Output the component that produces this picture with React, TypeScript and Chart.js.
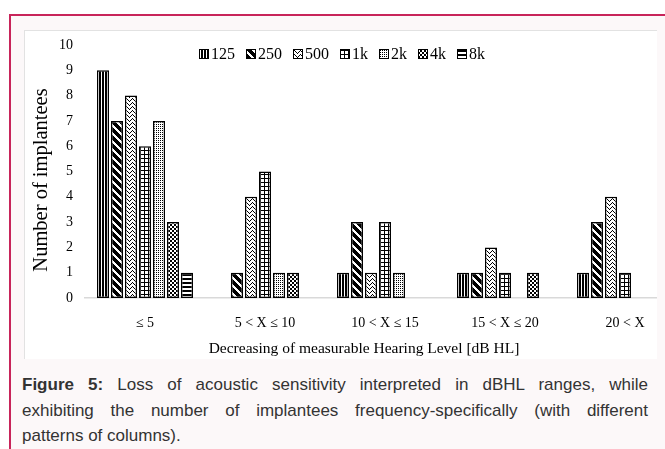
import React, { useEffect, useRef } from "react";
import { Chart, registerables } from "chart.js";

Chart.register(...registerables);

const categories = ["≤ 5", "5 < X ≤ 10", "10 < X ≤ 15", "15 < X ≤ 20", "20 < X"];
const frequencies = ["125", "250", "500", "1k", "2k", "4k", "8k"];
const hz125 = [9, 0, 1, 1, 1];
const hz250 = [7, 1, 3, 1, 3];
const hz500 = [8, 4, 1, 2, 4];
const hz1k = [6, 5, 3, 1, 1];
const hz2k = [7, 1, 1, 0, 0];
const hz4k = [3, 1, 0, 1, 0];
const hz8k = [1, 0, 0, 0, 0];
const seriesValues = [hz125, hz250, hz500, hz1k, hz2k, hz4k, hz8k];
const patternKinds = ["vertical", "diagonal", "zigzag", "grid", "dots", "checker", "horizontal"];
const yMin = 0;
const yMax = 10;
const yStep = 1;
const xTitle = "Decreasing of measurable Hearing Level [dB HL]";
const yTitle = "Number of implantees";

const SERIF = "'Liberation Serif', 'Times New Roman', serif";

function makePattern(kind: string): CanvasPattern | string {
  const c = document.createElement("canvas");
  let w = 4, h = 4;
  if (kind === "vertical") { w = 3; h = 1; }
  if (kind === "diagonal") { w = 8; h = 8; }
  if (kind === "zigzag") { w = 6; h = 4; }
  if (kind === "grid") { w = 4; h = 4; }
  if (kind === "dots") { w = 2; h = 2; }
  if (kind === "checker") { w = 4; h = 4; }
  if (kind === "horizontal") { w = 1; h = 4; }
  c.width = w; c.height = h;
  const ctx = c.getContext("2d");
  if (!ctx) return "#888";
  ctx.fillStyle = "#fff";
  ctx.fillRect(0, 0, w, h);
  ctx.fillStyle = "#000";
  for (let y = 0; y < h; y++) {
    for (let x = 0; x < w; x++) {
      let on = false;
      switch (kind) {
        case "vertical": on = x < 2; break;
        case "diagonal": on = ((x - y + 16) % 8) >= 3; break;
        case "zigzag": { const zy = x < 3 ? x : 6 - x; on = y === zy % 4; break; }
        case "grid": on = x === 0 || y === 0; break;
        case "dots": on = x === 0 && y === 0; break;
        case "checker": on = (((x >> 1) + (y >> 1)) % 2) === 0; break;
        case "horizontal": on = y < 2; break;
      }
      if (on) ctx.fillRect(x, y, 1, 1);
    }
  }
  const p = ctx.createPattern(c, "repeat");
  return p || "#888";
}

// Legend drawn inside the plot area plus the two axis titles, placed relative to the chart area
const inlineLegend = {
  id: "inlineLegend",
  afterDraw(chart: any) {
    const ctx = chart.ctx as CanvasRenderingContext2D;
    const area = chart.chartArea;
    ctx.save();
    ctx.font = `16px ${SERIF}`;
    ctx.textBaseline = "middle";
    let x = area.left + 114;
    const yc = area.top + 9;
    chart.data.datasets.forEach((ds: any) => {
      ctx.fillStyle = ds.backgroundColor;
      ctx.fillRect(x, yc - 5, 10, 10);
      ctx.strokeStyle = "#000";
      ctx.lineWidth = 1;
      ctx.strokeRect(x + 0.5, yc - 4.5, 9, 9);
      ctx.fillStyle = "#000";
      ctx.fillText(ds.label, x + 12, yc + 1);
      x += 12 + ctx.measureText(ds.label).width + 11;
    });
    // x axis title
    const xs = chart.scales.x;
    ctx.font = `15.5px ${SERIF}`;
    ctx.textAlign = "center";
    ctx.fillText(xTitle, area.left + 279, xs.bottom - 10);
    // y axis title
    ctx.save();
    ctx.translate(area.left - 43, area.top + 135);
    ctx.rotate(-Math.PI / 2);
    ctx.font = `20.5px ${SERIF}`;
    ctx.fillText(yTitle, 0, 0);
    ctx.restore();
    ctx.restore();
  },
};

function BarChart() {
  const ref = useRef<HTMLCanvasElement | null>(null);
  useEffect(() => {
    if (!ref.current) return;
    const datasets = frequencies.map((f, i) => ({
      label: f,
      data: seriesValues[i],
      backgroundColor: makePattern(patternKinds[i]) as any,
      borderColor: "#000",
      borderWidth: 1.5,
      borderSkipped: false as any,
      categoryPercentage: 0.817,
      barPercentage: 0.86,
    }));
    const chart = new Chart(ref.current, {
      type: "bar",
      data: { labels: categories, datasets },
      options: {
        animation: false,
        responsive: false,
        devicePixelRatio: 1,
        layout: { padding: { left: 6, right: 5, top: 15, bottom: 0 } },
        plugins: { legend: { display: false }, tooltip: { enabled: false } },
        scales: {
          x: {
            grid: { display: false, drawTicks: false },
            border: { display: true, color: "#d9d9d9", width: 1.5 },
            ticks: { color: "#000", font: { family: SERIF, size: 14 }, padding: 17 },
            afterFit: (scale: any) => {
              scale.height = 61;
              scale.paddingLeft = 0;
              scale.paddingRight = 0;
            },
          },
          y: {
            min: yMin,
            max: yMax,
            grid: { display: false, drawTicks: false },
            border: { display: false },
            ticks: { stepSize: yStep, color: "#000", font: { family: SERIF, size: 14 }, padding: 12 },
            afterFit: (scale: any) => {
              scale.width = 55;
              scale.paddingTop = 0;
              scale.paddingBottom = 0;
            },
          },
        },
      },
      plugins: [inlineLegend],
    });
    return () => chart.destroy();
  }, []);
  return <canvas ref={ref} width={666} height={329} style={{ display: "block" }} />;
}

export default function App() {
  const captionLine: React.CSSProperties = {
    position: "absolute",
    left: 22,
    width: 626,
    height: 25.5,
    lineHeight: "25.5px",
    fontFamily: "'Liberation Sans', Arial, sans-serif",
    fontSize: 17,
    color: "#333",
    whiteSpace: "nowrap",
  };
  const justified: React.CSSProperties = {
    ...captionLine,
    whiteSpace: "normal",
    textAlign: "justify",
    textAlignLast: "justify" as any,
  };
  return (
    <div style={{ position: "absolute", left: 0, top: 0, width: 665, height: 449, background: "#fff", overflow: "hidden" }}>
      <div
        style={{
          position: "absolute",
          left: 9,
          top: 14,
          width: 700,
          height: 500,
          borderLeft: "2px solid #c8245a",
          borderTop: "2px solid #c8245a",
          background: "#fcf8f9",
        }}
      />
      <div
        style={{
          position: "absolute",
          left: 24,
          top: 30,
          width: 633,
          height: 329,
          background: "#fff",
          borderLeft: "1px solid #e2e2e2",
          borderTop: "1px solid #e2e2e2",
          overflow: "hidden",
          boxSizing: "border-box",
        }}
      >
        <div style={{ position: "absolute", left: -1, top: -1 }}>
          <BarChart />
        </div>
      </div>
      <div style={{ ...justified, top: 372 }}>
        <b>Figure 5:</b> Loss of acoustic sensitivity interpreted in dBHL ranges, while
      </div>
      <div style={{ ...justified, top: 397.5 }}>
        exhibiting the number of implantees frequency-specifically (with different
      </div>
      <div style={{ ...captionLine, top: 423 }}>patterns of columns).</div>
    </div>
  );
}
